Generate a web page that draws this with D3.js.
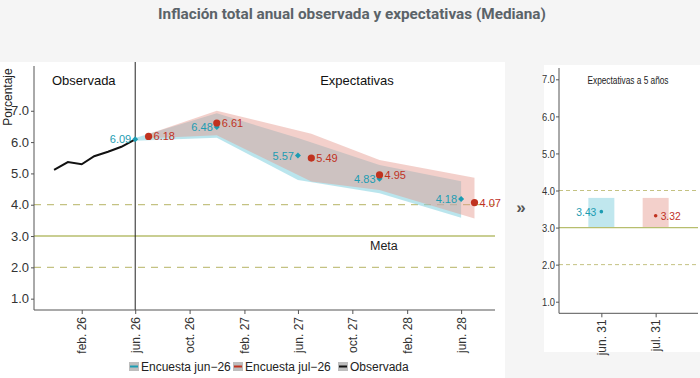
<!DOCTYPE html>
<html><head><meta charset="utf-8">
<script src="https://cdn.jsdelivr.net/npm/d3@7"></script>
<style>
body{margin:0;background:#f5f5f5;}
svg{display:block;font-family:"Liberation Sans",Arial,sans-serif;}
</style></head>
<body><svg id="c" width="700" height="378"></svg>
<script>
// ---- data ----
const obsDates = ["2025-12-01","2026-01-01","2026-02-01","2026-03-01","2026-04-01","2026-05-01","2026-06-01"];
const obsValues = [5.11, 5.36, 5.29, 5.55, 5.69, 5.85, 6.09];

const junDates = ["2026-06-01","2026-12-01","2027-06-01","2027-12-01","2028-06-01"];
const junMedian = [6.09, 6.48, 5.57, 4.83, 4.18];
const junLower  = [6.04, 6.14, 4.79, 4.37, 3.58];
const junUpper  = [6.13, 6.92, 6.13, 5.27, 4.75];

const julDates = ["2026-07-01","2026-12-01","2027-07-01","2027-12-01","2028-07-01"];
const julMedian = [6.18, 6.61, 5.49, 4.95, 4.07];
const julLower  = [6.12, 6.22, 4.74, 4.47, 3.56];
const julUpper  = [6.26, 7.00, 6.27, 5.43, 4.86];

const xTickDates = ["2026-02-01","2026-06-01","2026-10-01","2027-02-01","2027-06-01","2027-10-01","2028-02-01","2028-06-01"];
const xTickLabels = ["feb. 26","jun. 26","oct. 26","feb. 27","jun. 27","oct. 27","feb. 28","jun. 28"];
const yTicks = [1,2,3,4,5,6,7];

const lpCategories = ["jun. 31","jul. 31"];
const lpMedian = [3.43, 3.32];
const lpLower = [3.0, 3.0];
const lpUpper = [3.8, 3.8];

const metaValue = 3.0;
const tolRange = [2.0, 4.0];
const legendLabels = ["Encuesta jun\u221226","Encuesta jul\u221226","Observada"];

// ---- styles ----
const TEAL="#1c9cb2", RED="#c0321f", TEAL_F="rgba(130,208,222,0.55)", RED_F="rgba(228,150,140,0.45)";
const META="#b7be6e", DASH="#c4c282";

const svg = d3.select("#c");
const P = d3.timeParse("%Y-%m-%d");

// backgrounds
svg.append("rect").attr("x",0).attr("y",62).attr("width",505).attr("height",316).attr("fill","#ffffff");
svg.append("rect").attr("x",544).attr("y",65).attr("width",156).attr("height",287).attr("fill","#ffffff");

// title
svg.append("text").attr("x",352).attr("y",19).attr("text-anchor","middle")
  .attr("font-family","Roboto, sans-serif").attr("font-weight","bold").attr("font-size",15.3)
  .attr("fill","#5b6369").text("Inflación total anual observada y expectativas (Mediana)");

// ---- left panel ----
const L = {left:34, right:495, top:66, bottom:310};
const x = d3.scaleTime().domain([P("2025-10-17"), P("2028-08-16")]).range([L.left, L.right]);
const y = d3.scaleLinear().domain([0.638, 8.43]).range([L.bottom, L.top]);

// reference lines
[tolRange[0], tolRange[1]].forEach(v=>{
  svg.append("line").attr("x1",L.left).attr("x2",L.right).attr("y1",y(v)).attr("y2",y(v))
    .attr("stroke",DASH).attr("stroke-width",1.3).attr("stroke-dasharray","7,6");
});
svg.append("line").attr("x1",L.left).attr("x2",L.right).attr("y1",y(metaValue)).attr("y2",y(metaValue))
  .attr("stroke",META).attr("stroke-width",1.5);
svg.append("text").attr("x",370).attr("y",y(metaValue)+14).attr("font-size",12.5).attr("fill","#222").text("Meta");

// bands
function band(dates, lo, hi){
  const pts = dates.map((d,i)=>({d:P(d), lo:lo[i], hi:hi[i]}));
  return d3.area().x(p=>x(p.d)).y0(p=>y(p.lo)).y1(p=>y(p.hi))(pts);
}
svg.append("path").attr("d",band(junDates,junLower,junUpper)).attr("fill",TEAL_F);
svg.append("path").attr("d",band(julDates,julLower,julUpper)).attr("fill",RED_F);

// vertical separator
const xs = x(P("2026-06-01"));
svg.append("line").attr("x1",xs).attr("x2",xs).attr("y1",62).attr("y2",L.bottom).attr("stroke","#222").attr("stroke-width",1);

// observed line
const line = d3.line().x((d,i)=>x(P(obsDates[i]))).y(d=>y(d));
svg.append("path").attr("d",line(obsValues)).attr("fill","none").attr("stroke","#111").attr("stroke-width",2);

// points
junMedian.forEach((v,i)=>{
  const cx=x(P(junDates[i])), cy=y(v);
  svg.append("path").attr("d",d3.symbol(d3.symbolSquare,18)()).attr("transform",`translate(${cx},${cy}) rotate(45)`).attr("fill",TEAL);
  svg.append("text").attr("x",cx-4).attr("y",cy+4).attr("text-anchor","end").attr("font-size",11).attr("fill",TEAL).text(v.toFixed(2));
});
julMedian.forEach((v,i)=>{
  const cx=x(P(julDates[i])), cy=y(v);
  svg.append("circle").attr("cx",cx).attr("cy",cy).attr("r",3.6).attr("fill",RED);
  svg.append("text").attr("x",cx+5).attr("y",cy+4).attr("font-size",11).attr("fill",RED).text(v.toFixed(2));
});

// axes
const gy = svg.append("g").attr("transform",`translate(${L.left},0)`)
  .call(d3.axisLeft(y).tickValues(yTicks).tickFormat(d3.format(".1f")).tickSize(3).tickPadding(2));
gy.select(".domain").attr("d",`M0,${L.top}V${L.bottom}`).attr("stroke","#555");
gy.selectAll(".tick line").attr("stroke","#555");
gy.selectAll("text").attr("font-size",13).attr("fill","#333").attr("font-family","Liberation Sans, Arial");

const gx = svg.append("g").attr("transform",`translate(0,${L.bottom})`)
  .call(d3.axisBottom(x).tickValues(xTickDates.map(P)).tickFormat((d,i)=>xTickLabels[i]).tickSize(4));
gx.select(".domain").attr("d",`M${L.left},0H${L.right}`).attr("stroke","#555");
gx.selectAll(".tick line").attr("stroke","#555");
gx.selectAll("text").attr("font-size",12).attr("fill","#333").attr("font-family","Liberation Sans, Arial")
  .attr("transform","rotate(-90)").attr("text-anchor","end").attr("x",-7).attr("y",0).attr("dy","0.35em");

// panel labels
svg.append("text").attr("x",52).attr("y",85).attr("font-size",13).attr("fill","#111").text("Observada");
svg.append("text").attr("x",357).attr("y",85).attr("text-anchor","middle").attr("font-size",13).attr("fill","#111").text("Expectativas");
svg.append("text").attr("transform","translate(12,97) rotate(-90)").attr("text-anchor","middle").attr("font-size",12).attr("fill","#222").text("Porcentaje");

// legend
const legX=[129,233,338], legC=[TEAL,RED,"#111"];
legendLabels.forEach((t,i)=>{
  svg.append("rect").attr("x",legX[i]).attr("y",362).attr("width",10).attr("height",9).attr("fill","#bdbdbd");
  svg.append("line").attr("x1",legX[i]+1).attr("x2",legX[i]+9).attr("y1",366.5).attr("y2",366.5).attr("stroke",legC[i]).attr("stroke-width",2);
  svg.append("text").attr("x",legX[i]+12).attr("y",371).attr("font-size",12).attr("fill","#222").text(t);
});

// separator glyph
svg.append("text").attr("x",521).attr("y",213).attr("text-anchor","middle").attr("font-size",17).attr("font-weight","bold").attr("fill","#555").text("»");

// ---- right panel ----
const R = {left:559, right:698, top:68, bottom:313.3};
const xr = d3.scalePoint().domain(lpCategories).range([R.left,R.right]).padding(0.78);
const yr = d3.scaleLinear().domain([0.687, 7.305]).range([R.bottom, R.top]);

[tolRange[0], tolRange[1]].forEach(v=>{
  svg.append("line").attr("x1",R.left).attr("x2",R.right).attr("y1",yr(v)).attr("y2",yr(v))
    .attr("stroke",DASH).attr("stroke-width",1).attr("stroke-dasharray","4,3");
});
const barW = 26;
lpCategories.forEach((c,i)=>{
  svg.append("rect").attr("x",xr(c)-barW/2).attr("width",barW).attr("y",yr(lpUpper[i])).attr("height",yr(lpLower[i])-yr(lpUpper[i]))
    .attr("fill",i===0?"rgba(130,208,222,0.5)":"rgba(228,150,140,0.45)");
});
svg.append("line").attr("x1",R.left).attr("x2",R.right).attr("y1",yr(metaValue)).attr("y2",yr(metaValue)).attr("stroke",META).attr("stroke-width",1.3);
lpCategories.forEach((c,i)=>{
  const cx=xr(c), cy=yr(lpMedian[i]);
  svg.append("circle").attr("cx",cx).attr("cy",cy).attr("r",1.8).attr("fill",i===0?TEAL:RED);
  svg.append("text").attr("x",i===0?cx-5:cx+5).attr("y",cy+4).attr("text-anchor",i===0?"end":"start")
    .attr("font-size",11).attr("textLength",20).attr("lengthAdjust","spacingAndGlyphs")
    .attr("fill",i===0?TEAL:RED).text(lpMedian[i].toFixed(2));
});
const gyr = svg.append("g").attr("transform",`translate(${R.left},0)`)
  .call(d3.axisLeft(yr).tickValues(yTicks).tickFormat(d3.format(".1f")).tickSize(3).tickPadding(1));
gyr.select(".domain").attr("d",`M0,${R.top}V${R.bottom}`).attr("stroke","#555");
gyr.selectAll(".tick line").attr("stroke","#555");
gyr.selectAll("text").attr("font-size",11.5).attr("fill","#333").attr("font-family","Liberation Sans, Arial")
  .attr("textLength",13).attr("lengthAdjust","spacingAndGlyphs");
const gxr = svg.append("g").attr("transform",`translate(0,${R.bottom})`).call(d3.axisBottom(xr).tickSize(4));
gxr.select(".domain").attr("d",`M${R.left},0H${R.right}`).attr("stroke","#555");
gxr.selectAll(".tick line").attr("stroke","#555");
gxr.selectAll("text").attr("font-size",12).attr("fill","#333").attr("font-family","Liberation Sans, Arial")
  .attr("transform","rotate(-90)").attr("text-anchor","end").attr("x",-6).attr("y",0).attr("dy","0.35em");
svg.append("text").attr("x",628).attr("y",84).attr("text-anchor","middle").attr("font-size",10)
  .attr("textLength",81).attr("lengthAdjust","spacingAndGlyphs")
  .attr("fill","#222").text("Expectativas a 5 años");
</script></body></html>
